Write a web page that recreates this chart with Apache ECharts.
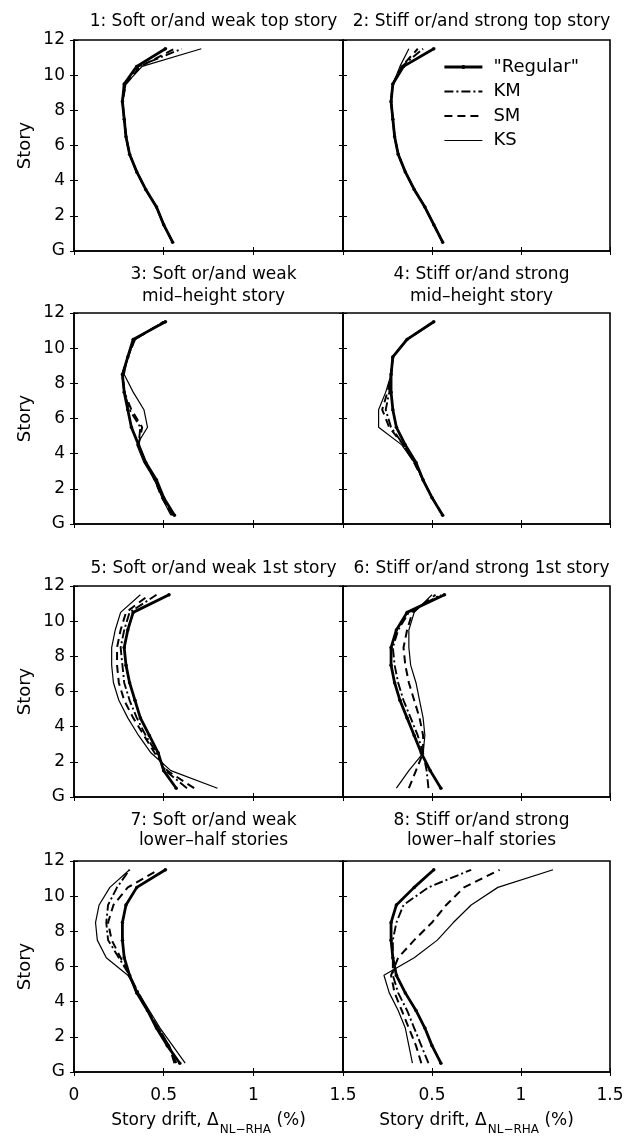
<!DOCTYPE html>
<html><head><meta charset="utf-8">
<script src="https://cdn.jsdelivr.net/npm/echarts@6/dist/echarts.min.js"></script>
<style>html,body{margin:0;padding:0;background:#fff}#c{width:639px;height:1136px}</style>
</head><body><div id="c"></div>
<script>
// ---------- data ----------
const stories = [0.5,1.5,2.5,3.5,4.5,5.5,6.5,7.5,8.5,9.5,10.5,11.5];
const seriesNames = ['"Regular"','KM','SM','KS'];
const panelTitles = [
  '1: Soft or/and weak top story',
  '2: Stiff or/and strong top story',
  '3: Soft or/and weak\nmid\u2013height story',
  '4: Stiff or/and strong\nmid\u2013height story',
  '5: Soft or/and weak 1st story',
  '6: Stiff or/and strong 1st story',
  '7: Soft or/and weak\nlower\u2013half stories',
  '8: Stiff or/and strong\nlower\u2013half stories'
];
const xTickLabels = ['0','0.5','1','1.5'];
const yTickLabels = ['G','2','4','6','8','10','12'];

// drift values (%) listed from story 0.5 (bottom) to 11.5 (top)
const regular1 = [0.55,0.50,0.46,0.40,0.35,0.31,0.29,0.28,0.27,0.28,0.35,0.51];
const km1      = [0.55,0.50,0.46,0.40,0.35,0.31,0.29,0.28,0.27,0.28,0.36,0.60];
const sm1      = [0.55,0.50,0.46,0.40,0.35,0.31,0.29,0.28,0.27,0.29,0.37,0.56];
const ks1      = [0.55,0.50,0.46,0.40,0.35,0.31,0.29,0.28,0.27,0.29,0.38,0.71];

const regular2 = [0.56,0.51,0.46,0.40,0.35,0.31,0.29,0.28,0.27,0.28,0.34,0.51];
const km2      = [0.56,0.51,0.46,0.40,0.35,0.31,0.29,0.28,0.27,0.28,0.33,0.45];
const sm2      = [0.56,0.51,0.46,0.40,0.35,0.31,0.29,0.28,0.27,0.28,0.33,0.42];
const ks2      = [0.56,0.51,0.46,0.40,0.35,0.31,0.29,0.28,0.27,0.28,0.32,0.37];

const regular3 = [0.56,0.50,0.46,0.40,0.36,0.32,0.30,0.28,0.27,0.30,0.33,0.51];
const km3      = [0.55,0.50,0.45,0.40,0.36,0.37,0.31,0.28,0.27,0.30,0.34,0.50];
const sm3      = [0.55,0.49,0.45,0.40,0.36,0.38,0.32,0.28,0.27,0.30,0.34,0.50];
const ks3      = [0.54,0.49,0.45,0.39,0.35,0.41,0.39,0.33,0.28,0.30,0.34,0.50];

const regular4 = [0.56,0.50,0.45,0.41,0.35,0.30,0.28,0.27,0.27,0.28,0.36,0.51];
const km4      = [0.56,0.50,0.45,0.40,0.34,0.27,0.24,0.26,0.27,0.28,0.36,0.51];
const sm4      = [0.56,0.50,0.45,0.40,0.34,0.26,0.22,0.25,0.27,0.28,0.36,0.51];
const ks4      = [0.56,0.50,0.45,0.40,0.33,0.20,0.20,0.24,0.27,0.28,0.36,0.51];

const regular5 = [0.57,0.50,0.47,0.42,0.37,0.34,0.31,0.29,0.28,0.30,0.33,0.53];
const km5      = [0.63,0.51,0.46,0.40,0.35,0.31,0.28,0.27,0.26,0.28,0.31,0.46];
const sm5      = [0.67,0.52,0.45,0.39,0.33,0.28,0.25,0.24,0.24,0.26,0.29,0.42];
const ks5      = [0.80,0.54,0.43,0.36,0.30,0.25,0.22,0.21,0.21,0.23,0.26,0.37];

const regular6 = [0.55,0.49,0.44,0.40,0.36,0.32,0.29,0.27,0.27,0.30,0.36,0.57];
const km6      = [0.48,0.47,0.45,0.42,0.38,0.34,0.31,0.29,0.28,0.31,0.37,0.55];
const sm6      = [0.37,0.41,0.45,0.45,0.43,0.40,0.37,0.35,0.34,0.36,0.39,0.52];
const ks6      = [0.30,0.37,0.45,0.46,0.45,0.43,0.41,0.38,0.37,0.37,0.40,0.50];

const regular7 = [0.59,0.52,0.46,0.41,0.35,0.31,0.28,0.27,0.27,0.29,0.35,0.51];
const km7      = [0.56,0.53,0.47,0.41,0.36,0.31,0.25,0.19,0.18,0.19,0.24,0.31];
const sm7      = [0.57,0.53,0.47,0.41,0.35,0.31,0.26,0.21,0.19,0.22,0.30,0.47];
const ks7      = [0.62,0.55,0.48,0.42,0.36,0.30,0.18,0.13,0.12,0.14,0.20,0.31];

const regular8 = [0.55,0.50,0.46,0.41,0.35,0.30,0.28,0.27,0.27,0.30,0.40,0.51];
const km8      = [0.48,0.44,0.40,0.36,0.31,0.28,0.28,0.28,0.30,0.34,0.48,0.72];
const sm8      = [0.44,0.41,0.37,0.33,0.29,0.27,0.31,0.40,0.50,0.58,0.68,0.88];
const ks8      = [0.39,0.37,0.35,0.31,0.26,0.23,0.40,0.53,0.62,0.72,0.87,1.18];

const panelData = [
  [regular1,km1,sm1,ks1],[regular2,km2,sm2,ks2],
  [regular3,km3,sm3,ks3],[regular4,km4,sm4,ks4],
  [regular5,km5,sm5,ks5],[regular6,km6,sm6,ks6],
  [regular7,km7,sm7,ks7],[regular8,km8,sm8,ks8]
];

// ---------- layout & style ----------
const F = 'DejaVu Sans';
const colLeft = [74, 343];
const colWidth = [269, 267];
const rowTop = [40, 313, 586, 861];
const rowH = 211;
const titleTop = [6, 259, 553, 806];
const titleLH = [22, 22, 22, 20];

const lineStyles = [
  {width: 2.8, type: 'solid'},
  {width: 1.9, type: [9, 3, 2, 3]},
  {width: 2.0, type: [8, 5]},
  {width: 1.2, type: 'solid'}
];

const grids = [], xAxes = [], yAxes = [], series = [], titles = [];
const tick = {show: true, inside: true, length: 4, lineStyle: {color: '#000', width: 1}};

for (let i = 0; i < 8; i++) {
  const r = Math.floor(i / 2), c = i % 2;
  grids.push({left: colLeft[c], top: rowTop[r], width: colWidth[c], height: rowH,
    show: true, borderColor: '#000', borderWidth: 1.6, backgroundColor: 'transparent',
    outerBoundsMode: 'none'});
  titles.push({text: panelTitles[i], left: colLeft[c] + colWidth[c] / 2, top: titleTop[r],
    textAlign: 'center',
    textStyle: {fontFamily: F, fontSize: 17, fontWeight: 'normal', color: '#000', lineHeight: titleLH[r]}});
  xAxes.push({gridIndex: i, type: 'value', min: 0, max: 1.5, interval: 0.5, position: 'bottom',
    axisLine: {show: true, onZero: false, lineStyle: {color: '#000', width: 1.6}},
    axisTick: tick, splitLine: {show: false},
    axisLabel: {show: r === 3, showMinLabel: c === 0, showMaxLabel: true, margin: 15, color: '#000',
      fontSize: 17, fontFamily: F, formatter: v => xTickLabels[Math.round(v / 0.5)]},
    name: r === 3 ? '{a|Story drift, \u0394}{b|NL\u2212RHA}{a| (%)}' : '',
    nameLocation: 'middle', nameGap: 40,
    nameTextStyle: {color: '#000', rich: {
      a: {fontFamily: F, fontSize: 17, color: '#000', lineHeight: 20, verticalAlign: 'top'},
      b: {fontFamily: F, fontSize: 12, color: '#000', lineHeight: 12, padding: [12, 0, 0, 1], verticalAlign: 'top'}
    }}
  });
  xAxes.push({gridIndex: i, type: 'value', min: 0, max: 1.5, interval: 0.5, position: 'top',
    axisLine: {show: false}, axisTick: tick, axisLabel: {show: false}, splitLine: {show: false}});
  yAxes.push({gridIndex: i, type: 'value', min: 0, max: 12, interval: 2, position: 'left',
    axisLine: {show: true, onZero: false, lineStyle: {color: '#000', width: 1.6}},
    axisTick: tick, splitLine: {show: false},
    axisLabel: {show: c === 0, margin: 9, color: '#000', fontSize: 17, fontFamily: F,
      formatter: v => yTickLabels[Math.round(v / 2)]},
    name: c === 0 ? 'Story' : '', nameLocation: 'middle', nameGap: 40,
    nameTextStyle: {fontFamily: F, fontSize: 18, color: '#000'}
  });
  yAxes.push({gridIndex: i, type: 'value', min: 0, max: 12, interval: 2, position: 'right',
    axisLine: {show: false}, axisTick: tick, axisLabel: {show: false}, splitLine: {show: false}});

  for (let s = 3; s >= 0; s--) {
    const vals = panelData[i][s];
    series.push({
      type: 'line', name: seriesNames[s], xAxisIndex: 2 * i, yAxisIndex: 2 * i,
      data: vals.map((v, k) => [v, stories[k]]),
      symbol: s === 0 ? 'circle' : 'none', symbolSize: 3.5, showSymbol: s === 0,
      itemStyle: {color: '#000'},
      lineStyle: Object.assign({color: '#000'}, lineStyles[s]),
      z: 10 - s, silent: true, animation: false
    });
  }
}

const legendData = seriesNames.map((n, k) => ({
  name: n,
  itemStyle: k === 0 ? {color: '#000'} : {opacity: 0},
  lineStyle: {color: '#000', width: lineStyles[k].width, type: lineStyles[k].type}
}));

const chart = echarts.init(document.getElementById('c'), null, {renderer: 'canvas'});
chart.setOption({
  backgroundColor: '#fff',
  animation: false,
  title: titles,
  legend: {
    data: legendData, orient: 'vertical', left: 438, top: 52,
    itemWidth: 38, itemHeight: 5, itemGap: 4.5,
    textStyle: {fontFamily: F, fontSize: 18, color: '#000', lineHeight: 20, padding: [0, 0, 0, 6]},
    selectedMode: false
  },
  grid: grids, xAxis: xAxes, yAxis: yAxes, series: series
});
</script></body></html>
